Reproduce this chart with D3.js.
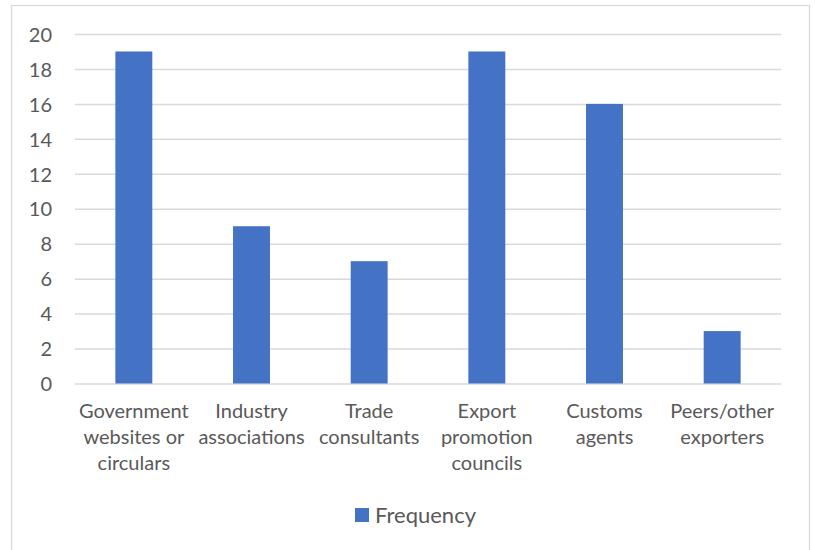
<!DOCTYPE html>
<html>
<head>
<meta charset="utf-8">
<script src="https://cdn.jsdelivr.net/npm/d3@7"></script>
<style>
  html, body { margin: 0; padding: 0; background: #fff; }
  svg { display: block; }
  text { font-family: Lato, "Open Sans", sans-serif; fill: #595959; }
</style>
</head>
<body>
<svg id="chart" width="815" height="550"></svg>
<script>
// Sources of export information and how often they were cited
const categories = [
  ["Government", "websites or", "circulars"],
  ["Industry", "associations"],
  ["Trade", "consultants"],
  ["Export", "promotion", "councils"],
  ["Customs", "agents"],
  ["Peers/other", "exporters"]
];
const frequency = [19, 9, 7, 19, 16, 3];
const yTicks = [0, 2, 4, 6, 8, 10, 12, 14, 16, 18, 20];
const seriesName = "Frequency";
const barColor = "#4472C4";
const fontFamily = "Lato, 'Open Sans', sans-serif";

const svg = d3.select("#chart");

// chart frame
svg.append("rect")
  .attr("x", 11.5).attr("y", 5.5)
  .attr("width", 798).attr("height", 560)
  .attr("fill", "#fff").attr("stroke", "#d9d9d9").attr("stroke-width", 1.3);

const plot = { left: 75, right: 781, top: 34, bottom: 383.5 };

const x = d3.scaleBand()
  .domain(d3.range(categories.length))
  .range([plot.left, plot.right])
  .paddingInner(0.686)
  .paddingOuter(0.343);

const y = d3.scaleLinear()
  .domain([0, 20])
  .range([plot.bottom, plot.top]);

// horizontal gridlines and value labels
const yAxis = d3.axisLeft(y).tickValues(yTicks).tickSize(0).tickPadding(0);
const gy = svg.append("g").attr("transform", `translate(${plot.left},0)`).call(yAxis);
gy.attr("font-family", fontFamily).attr("font-size", 20);
gy.select(".domain").remove();
gy.selectAll(".tick line").remove();
gy.selectAll(".tick")
  .insert("line", "text")
  .attr("x1", 0).attr("x2", plot.right - plot.left)
  .attr("stroke", "#d9d9d9").attr("stroke-width", 1.5);
gy.selectAll(".tick text")
  .attr("x", -23)
  .attr("dy", "0.36em")
  .attr("fill", "#595959");

// bars
svg.append("g").selectAll("rect")
  .data(frequency)
  .join("rect")
  .attr("x", (d, i) => x(i))
  .attr("width", x.bandwidth())
  .attr("y", d => y(d))
  .attr("height", d => y(0) - y(d))
  .attr("fill", barColor);

// category labels
const xAxis = d3.axisBottom(x).tickSize(0).tickFormat(() => "");
const gx = svg.append("g").attr("transform", `translate(0,${plot.bottom})`).call(xAxis);
gx.attr("font-family", fontFamily).attr("font-size", 20);
gx.select(".domain").remove();
gx.selectAll(".tick").each(function(i) {
  const t = d3.select(this).append("text")
    .attr("text-anchor", "middle")
    .attr("fill", "#595959");
  categories[i].forEach((line, k) => {
    t.append("tspan").attr("x", 0).attr("y", 34 + k * 26).text(line);
  });
});

// legend
const legend = svg.append("g").attr("transform", "translate(355,508)");
legend.append("rect").attr("width", 14).attr("height", 14).attr("fill", barColor);
legend.append("text").attr("x", 20).attr("y", 7).attr("dy", "0.36em")
  .attr("font-family", fontFamily)
  .attr("font-size", 22).text(seriesName);
</script>
</body>
</html>
